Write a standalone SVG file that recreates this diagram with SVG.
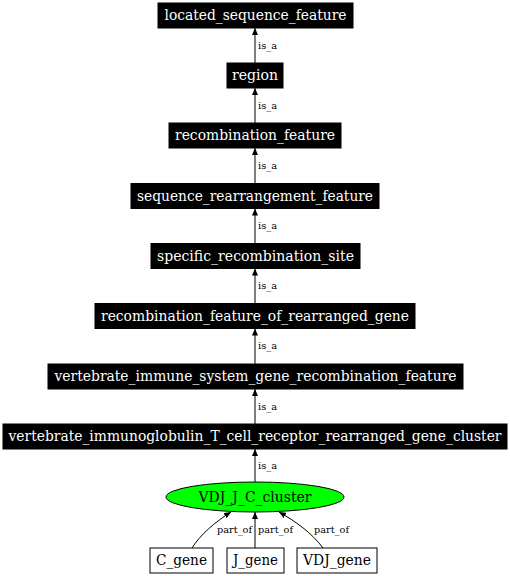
<svg xmlns="http://www.w3.org/2000/svg" width="510" height="576" viewBox="0 0 510 576">
<style>
.n rect{fill:#000;stroke:#000;stroke-width:1}
.n text{fill:#fff;font-family:"DejaVu Serif","Liberation Serif",serif;font-size:15px;text-anchor:middle}
.w rect{fill:#fff;stroke:#000;stroke-width:1}
.w text{fill:#000;font-family:"DejaVu Serif","Liberation Serif",serif;font-size:15px;text-anchor:middle}
.e path{fill:none;stroke:#000;stroke-width:1}
.e text{fill:#000;font-family:"DejaVu Serif","Liberation Serif",serif;font-size:10px}
</style>
<defs>
<marker id="ah" markerWidth="8" markerHeight="6" refX="7" refY="3" orient="auto" markerUnits="userSpaceOnUse">
<path d="M0,0 L7,3 L0,6 z" fill="#000"/>
</marker>
</defs>
<rect width="510" height="576" fill="#fff"/>
<g id="connectors" class="e">
<path d="M255,63 L255,28" marker-end="url(#ah)"/>
<text x="258" y="48.5" textLength="19" lengthAdjust="spacingAndGlyphs">is_a</text>
<path d="M255,123 L255,88" marker-end="url(#ah)"/>
<text x="258" y="108.5" textLength="19" lengthAdjust="spacingAndGlyphs">is_a</text>
<path d="M255,183.5 L255,148" marker-end="url(#ah)"/>
<text x="258" y="168.5" textLength="19" lengthAdjust="spacingAndGlyphs">is_a</text>
<path d="M255,243.5 L255,208.5" marker-end="url(#ah)"/>
<text x="258" y="229" textLength="19" lengthAdjust="spacingAndGlyphs">is_a</text>
<path d="M255,303.5 L255,268.5" marker-end="url(#ah)"/>
<text x="258" y="289" textLength="19" lengthAdjust="spacingAndGlyphs">is_a</text>
<path d="M255,364 L255,328.5" marker-end="url(#ah)"/>
<text x="258" y="349" textLength="19" lengthAdjust="spacingAndGlyphs">is_a</text>
<path d="M255,424 L255,389" marker-end="url(#ah)"/>
<text x="258" y="409.5" textLength="19" lengthAdjust="spacingAndGlyphs">is_a</text>
<path d="M255,482 L255,449" marker-end="url(#ah)"/>
<text x="258" y="468.5" textLength="19" lengthAdjust="spacingAndGlyphs">is_a</text>
<path d="M192,548 C200,535 215,522 231,512" marker-end="url(#ah)"/>
<text x="217" y="533" textLength="35" lengthAdjust="spacingAndGlyphs">part_of</text>
<path d="M255,548 L255,512" marker-end="url(#ah)"/>
<text x="258" y="533" textLength="35" lengthAdjust="spacingAndGlyphs">part_of</text>
<path d="M323,548 C312,533 295,521 279,512" marker-end="url(#ah)"/>
<text x="314" y="533" textLength="35" lengthAdjust="spacingAndGlyphs">part_of</text>
</g>
<g id="located_sequence_feature" class="n"><rect x="158" y="3" width="195" height="25"/><text x="255.5" y="20" textLength="182" lengthAdjust="spacingAndGlyphs">located_sequence_feature</text></g>
<g id="region" class="n"><rect x="227" y="63" width="56" height="25"/><text x="255" y="80" textLength="46" lengthAdjust="spacingAndGlyphs">region</text></g>
<g id="recombination_feature" class="n"><rect x="169" y="123" width="172" height="25"/><text x="255" y="140" textLength="160" lengthAdjust="spacingAndGlyphs">recombination_feature</text></g>
<g id="sequence_rearrangement_feature" class="n"><rect x="131" y="183.5" width="248" height="25"/><text x="255" y="200.5" textLength="236" lengthAdjust="spacingAndGlyphs">sequence_rearrangement_feature</text></g>
<g id="specific_recombination_site" class="n"><rect x="151" y="243.5" width="209" height="25"/><text x="255.5" y="260.5" textLength="197" lengthAdjust="spacingAndGlyphs">specific_recombination_site</text></g>
<g id="recombination_feature_of_rearranged_gene" class="n"><rect x="95" y="303.5" width="320" height="25"/><text x="255" y="320.5" textLength="308" lengthAdjust="spacingAndGlyphs">recombination_feature_of_rearranged_gene</text></g>
<g id="vertebrate_immune_system_gene_recombination_feature" class="n"><rect x="48" y="364" width="415" height="25"/><text x="255.5" y="381" textLength="402" lengthAdjust="spacingAndGlyphs">vertebrate_immune_system_gene_recombination_feature</text></g>
<g id="vertebrate_immunoglobulin_T_cell_receptor_rearranged_gene_cluster" class="n"><rect x="3" y="424" width="504" height="25"/><text x="255" y="441" textLength="493" lengthAdjust="spacingAndGlyphs">vertebrate_immunoglobulin_T_cell_receptor_rearranged_gene_cluster</text></g>
<g id="VDJ_J_C_cluster"><ellipse cx="255" cy="497" rx="89" ry="15" fill="#00ff00" stroke="#000" stroke-width="1"/><text x="255" y="502" fill="#000" font-family="DejaVu Serif, Liberation Serif, serif" font-size="15" text-anchor="middle" textLength="113" lengthAdjust="spacingAndGlyphs">VDJ_J_C_cluster</text></g>
<g id="C_gene" class="w"><rect x="150" y="548" width="63" height="25"/><text x="181.5" y="564.5" textLength="51" lengthAdjust="spacingAndGlyphs">C_gene</text></g>
<g id="J_gene" class="w"><rect x="227" y="548" width="57" height="25"/><text x="255.5" y="564.5" textLength="45" lengthAdjust="spacingAndGlyphs">J_gene</text></g>
<g id="VDJ_gene" class="w"><rect x="297" y="548" width="80" height="25"/><text x="337" y="564.5" textLength="68" lengthAdjust="spacingAndGlyphs">VDJ_gene</text></g>
</svg>
